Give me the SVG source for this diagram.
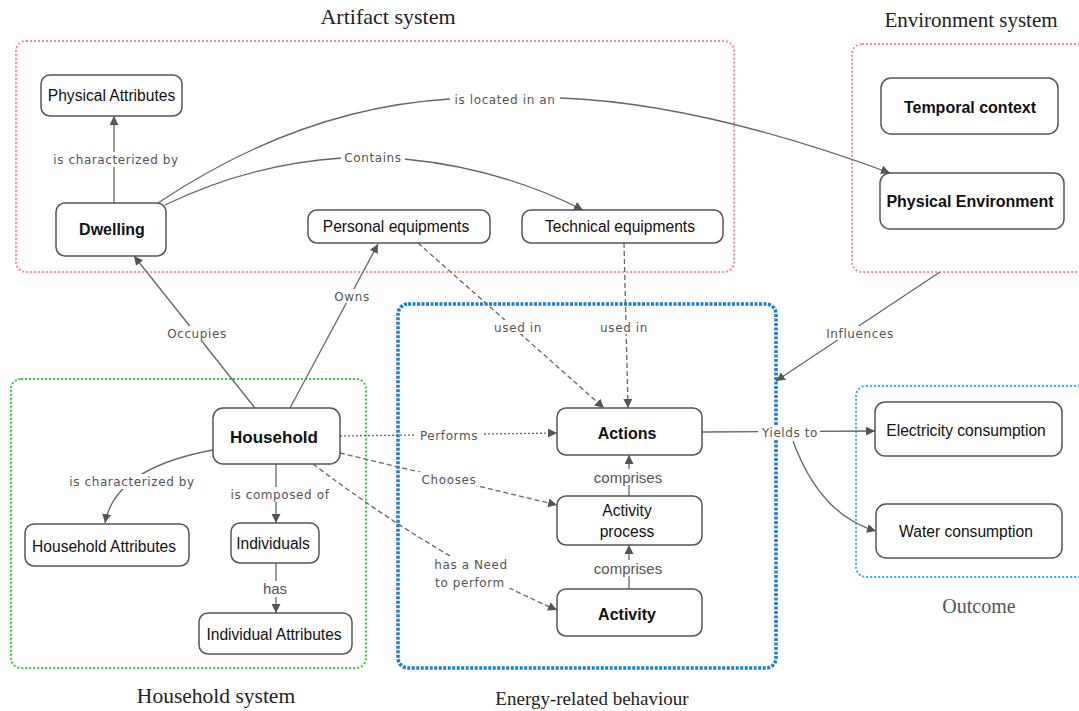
<svg xmlns="http://www.w3.org/2000/svg" width="1079" height="711" viewBox="0 0 1079 711">
<defs>
<marker id="arr" viewBox="0 0 10 10" refX="10" refY="5" markerWidth="9" markerHeight="9" markerUnits="userSpaceOnUse" orient="auto">
<path d="M0,0 L10,5 L0,10 z" fill="#555"/>
</marker>
</defs>
<style>
.grp{fill:none;}
.art{stroke:#f88;stroke-width:2;stroke-dasharray:2 2;}
.hh{stroke:#3c3;stroke-width:2;stroke-dasharray:2 2;}
.en{stroke:#1a7fd0;stroke-width:3.5;stroke-dasharray:3 1.5;}
.out{stroke:#3af;stroke-width:2;stroke-dasharray:2 2;}
.title{font-family:"Liberation Serif",serif;fill:#222;text-anchor:middle;}
.node rect{fill:#fff;stroke:#555;stroke-width:1.5;}
.node text{font-family:"Liberation Sans",Arial,sans-serif;font-size:15.6px;fill:#111;text-anchor:middle;}
.node text.b{font-weight:bold;font-size:16px;}
.c{fill:none;stroke:#666;stroke-width:1.3;}
.d{stroke-dasharray:5 3;}
.dt{stroke-dasharray:2 2;}
.lbl{font-family:"DejaVu Sans",Verdana,sans-serif;font-size:12px;fill:#555;text-anchor:middle;letter-spacing:0.6px;}
.lbl2{font-family:"Liberation Sans",Arial,sans-serif;font-size:15px;fill:#555;text-anchor:middle;}
.lbg{fill:#fff;}
</style>
<rect x="0" y="0" width="1079" height="711" fill="#fff"/>
<g id="groups">
<rect class="grp art" x="16" y="41" width="718" height="231" rx="10"/>
<rect class="grp art" x="852" y="44" width="240" height="228" rx="10"/>
<rect class="grp hh" x="11" y="379" width="355" height="289" rx="10"/>
<rect class="grp en" x="398" y="304" width="378" height="364" rx="10"/>
<rect class="grp out" x="856" y="386" width="240" height="191" rx="10"/>
<text class="title" x="388" y="24" font-size="22">Artifact system</text>
<text class="title" x="971" y="27" font-size="21">Environment system</text>
<text class="title" x="216" y="703" font-size="21.5">Household system</text>
<text class="title" x="592" y="705" font-size="19">Energy-related behaviour</text>
<text class="title" x="979" y="613" font-size="20" style="fill:#555">Outcome</text>
</g>
<g id="connectors">
<path class="c" d="M114,203 L114,116" marker-end="url(#arr)"/>
<path class="c" d="M158,203 Q300,108 450,99 M560,98 Q700,103 890,173" marker-end="url(#arr)"/>
<path class="c" d="M165,205 Q250,164 342,158 M404,159 Q500,168 583,210" marker-end="url(#arr)"/>
<path class="c" d="M255,408 L134,256" marker-end="url(#arr)"/>
<path class="c" d="M290,408 L378,244" marker-end="url(#arr)"/>
<path class="c" d="M213,450 Q115,468 105,523" marker-end="url(#arr)"/>
<path class="c" d="M276,464 L276,523" marker-end="url(#arr)"/>
<path class="c" d="M276,563 L276,613" marker-end="url(#arr)"/>
<path class="c dt" d="M340,436 L557,433" marker-end="url(#arr)"/>
<path class="c d" d="M340,453 L557,505" marker-end="url(#arr)"/>
<path class="c d" d="M313,464 Q440,560 557,610" marker-end="url(#arr)"/>
<path class="c d" d="M418,243 L604,408" marker-end="url(#arr)"/>
<path class="c d" d="M624,243 L628,408" marker-end="url(#arr)"/>
<path class="c" d="M629,496 L629,455" marker-end="url(#arr)"/>
<path class="c" d="M629,589 L629,545" marker-end="url(#arr)"/>
<path class="c" d="M702,432 L875,431" marker-end="url(#arr)"/>
<path class="c" d="M793,441 Q820,515 876,531" marker-end="url(#arr)"/>
<path class="c" d="M940,272 L776,381" marker-end="url(#arr)"/>
<g>
<rect class="lbg" x="50" y="152" width="132" height="15"/>
<text class="lbl" x="116" y="164">is characterized by</text>
<rect class="lbg" x="450" y="92" width="110" height="14"/>
<text class="lbl" x="505" y="104">is located in an</text>
<rect class="lbg" x="341" y="151" width="64" height="14"/>
<text class="lbl" x="373" y="162">Contains</text>
<rect class="lbg" x="161" y="326" width="72" height="15"/>
<text class="lbl" x="197" y="338">Occupies</text>
<rect class="lbg" x="330" y="289" width="44" height="14"/>
<text class="lbl" x="352" y="301">Owns</text>
<rect class="lbg" x="64" y="474" width="136" height="15"/>
<text class="lbl" x="132" y="486">is characterized by</text>
<rect class="lbg" x="224" y="487" width="112" height="15"/>
<text class="lbl" x="280" y="499">is composed of</text>
<rect class="lbg" x="258" y="581" width="34" height="16"/>
<text class="lbl2" x="275" y="594">has</text>
<rect class="lbg" x="416" y="428" width="66" height="14"/>
<text class="lbl" x="449" y="440">Performs</text>
<rect class="lbg" x="416" y="472" width="66" height="14"/>
<text class="lbl" x="449" y="484">Chooses</text>
<rect class="lbg" x="430" y="556" width="80" height="32"/>
<text class="lbl" x="471" y="569">has a Need</text>
<text class="lbl" x="470" y="587">to perform</text>
<rect class="lbg" x="490" y="320" width="56" height="14"/>
<text class="lbl" x="518" y="332">used in</text>
<rect class="lbg" x="596" y="320" width="56" height="14"/>
<text class="lbl" x="624" y="332">used in</text>
<rect class="lbg" x="586" y="469" width="84" height="16"/>
<text class="lbl2" x="628" y="483">comprises</text>
<rect class="lbg" x="586" y="560" width="84" height="16"/>
<text class="lbl2" x="628" y="574">comprises</text>
<rect class="lbg" x="758" y="425" width="62" height="14"/>
<text class="lbl" x="790" y="437">Yields to</text>
<rect class="lbg" x="820" y="326" width="80" height="14"/>
<text class="lbl" x="860" y="338">Influences</text>
</g>
</g>
<g id="n-physattr" class="node"><rect x="41" y="75" width="141" height="41" rx="9"/><text x="111.5" y="101">Physical Attributes</text></g>
<g id="n-dwelling" class="node"><rect x="56" y="203" width="110" height="53" rx="9"/><text class="b" x="112" y="235">Dwelling</text></g>
<g id="n-personal" class="node"><rect x="308" y="210" width="182" height="33" rx="9"/><text x="396" y="232">Personal equipments</text></g>
<g id="n-technical" class="node"><rect x="522" y="210" width="201" height="33" rx="9"/><text x="620" y="232">Technical equipments</text></g>
<g id="n-temporal" class="node"><rect x="881" y="78" width="177" height="56" rx="10"/><text class="b" x="970" y="113">Temporal context</text></g>
<g id="n-physenv" class="node"><rect x="880" y="173" width="184" height="56" rx="10"/><text class="b" x="970" y="207">Physical Environment</text></g>
<g id="n-household" class="node"><rect x="213" y="408" width="127" height="56" rx="10"/><text class="b" x="274" y="443" style="font-size:17px">Household</text></g>
<g id="n-hhattr" class="node"><rect x="25" y="524" width="164" height="42" rx="9"/><text x="104" y="552">Household Attributes</text></g>
<g id="n-individuals" class="node"><rect x="231" y="523" width="88" height="40" rx="9"/><text x="273" y="549">Individuals</text></g>
<g id="n-indattr" class="node"><rect x="199" y="613" width="153" height="41" rx="9"/><text x="274" y="640">Individual Attributes</text></g>
<g id="n-actions" class="node"><rect x="557" y="408" width="145" height="47" rx="9"/><text class="b" x="627" y="439">Actions</text></g>
<g id="n-actproc" class="node"><rect x="557" y="496" width="145" height="49" rx="9"/><text x="627" y="516">Activity</text><text x="627" y="537">process</text></g>
<g id="n-activity" class="node"><rect x="557" y="589" width="145" height="47" rx="9"/><text class="b" x="627" y="620">Activity</text></g>
<g id="n-elec" class="node"><rect x="875" y="402" width="187" height="54" rx="10"/><text x="966" y="436">Electricity consumption</text></g>
<g id="n-water" class="node"><rect x="876" y="504" width="186" height="54" rx="10"/><text x="966" y="537">Water consumption</text></g>
</svg>
